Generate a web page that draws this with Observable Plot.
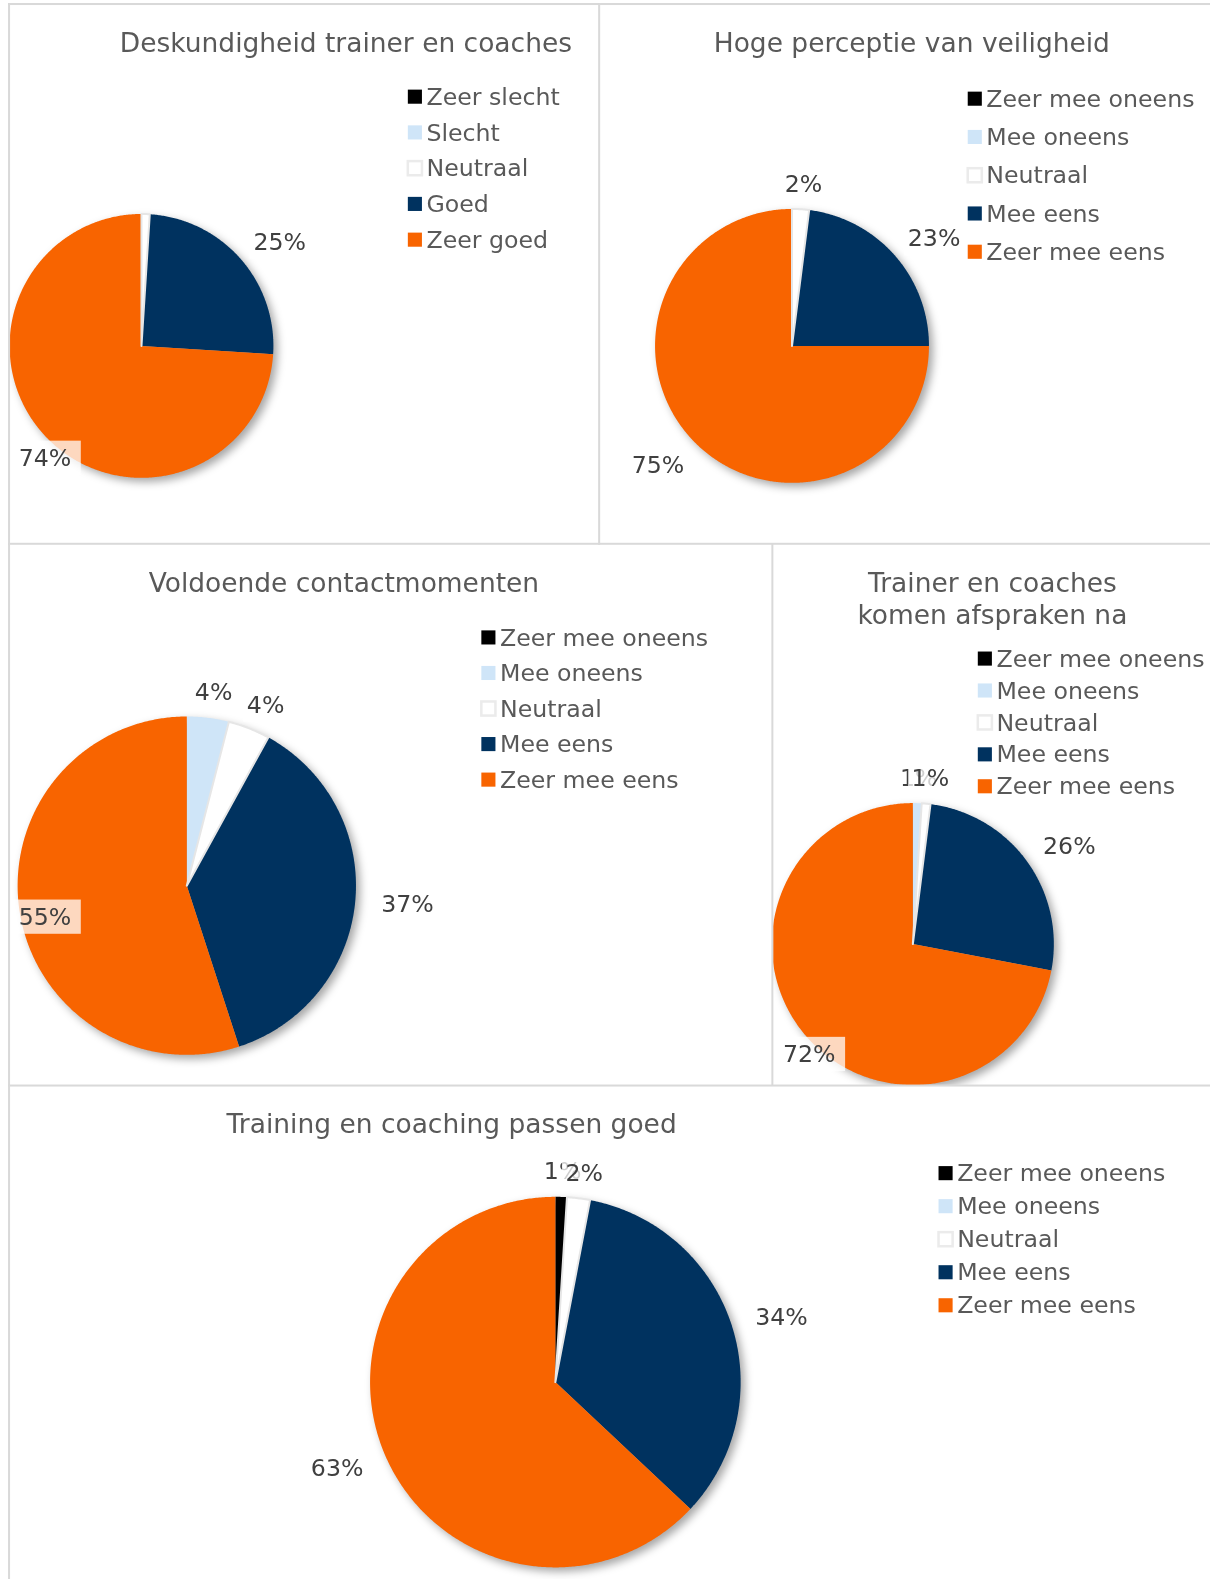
<!DOCTYPE html>
<html><head><meta charset="utf-8">
<script src="https://cdn.jsdelivr.net/npm/d3@7"></script>
<script src="https://cdn.jsdelivr.net/npm/@observablehq/plot@0.6"></script>
<style>
html,body{margin:0;padding:0;background:#fff;width:100%;height:100%;overflow:hidden;}
#page{position:absolute;left:0;top:0;width:1210px;height:1579px;overflow:hidden;font-family:"DejaVu Sans";transform-origin:0 0;transform:scale(1.007);}
.panel{position:absolute;overflow:hidden;}
.panel svg{display:block;}
.line{position:absolute;background:#d9d9d9;}
</style></head><body><div id="page"></div>
<script>
// ---------- data ----------
const catsQuality = ["Zeer slecht", "Slecht", "Neutraal", "Goed", "Zeer goed"];
const catsAgree = ["Zeer mee oneens", "Mee oneens", "Neutraal", "Mee eens", "Zeer mee eens"];

const title1 = "Deskundigheid trainer en coaches";
const title2 = "Hoge perceptie van veiligheid";
const title3 = "Voldoende contactmomenten";
const title4 = "Trainer en coaches\nkomen afspraken na";
const title5 = "Training en coaching passen goed";

const values1 = [0, 0, 1, 25, 74];
const values2 = [0, 0, 2, 23, 75];
const values3 = [0, 4, 4, 37, 55];
const values4 = [0, 1, 1, 26, 72];
const values5 = [1, 0, 2, 34, 63];

const sliceColors = ["#000000", "#CFE5F8", "#FFFFFF", "#00325F", "#F86400"];

// ---------- layout ----------
const panels = [
  {cats: catsQuality, values: values1, title: title1, hide: ["Neutraal"],
   left: 8, top: 3, w: 587, h: 537, cx: 140, cy: 343, r: 131,
   tx: 343, ty: 41, lx: 405, ly: 96, ldy: 35.5, clampLeft: 8},
  {cats: catsAgree, values: values2, title: title2, hide: [],
   left: 595, top: 3, w: 615, h: 537, cx: 786, cy: 343, r: 136,
   tx: 905, ty: 41, lx: 961, ly: 98, ldy: 38, clampLeft: 597},
  {cats: catsAgree, values: values3, title: title3, hide: [],
   left: 8, top: 540, w: 759, h: 538, cx: 185, cy: 879, r: 168,
   tx: 341, ty: 577, lx: 478, ly: 633, ldy: 35.3, clampLeft: 8},
  {cats: catsAgree, values: values4, title: title4, hide: [],
   left: 767, top: 540, w: 443, h: 538, cx: 906, cy: 937, r: 140,
   tx: 985, ty: 593, lx: 971, ly: 654, ldy: 31.7, clampLeft: 767},
  {cats: catsAgree, values: values5, title: title5, hide: [],
   left: 8, top: 1078, w: 1202, h: 501, cx: 551, cy: 1372, r: 184,
   tx: 448, ty: 1114, lx: 932, ly: 1165, ldy: 32.8, clampLeft: 8}
];

const FONT = "DejaVu Sans";
const canvas = document.createElement("canvas");
const ctx = canvas.getContext("2d");
ctx.font = `23.5px "${FONT}"`;
const textW = s => ctx.measureText(s).width;

const page = document.getElementById("page");

panels.forEach(p => {
  const rows = p.cats.map((c, i) => ({cat: c, i, value: p.values[i], color: sliceColors[i]}));
  const arcs = d3.pie().sort(null).value(d => d.value)(rows);

  // slice polygons
  const pts = [];
  arcs.forEach(a => {
    if (a.data.value <= 0) return;
    const n = Math.max(2, Math.ceil((a.endAngle - a.startAngle) / (Math.PI / 360)));
    pts.push({k: a.data.i, cat: a.data.cat, color: a.data.color, x: p.cx, y: p.cy});
    for (let j = 0; j <= n; j++) {
      const t = a.startAngle + (a.endAngle - a.startAngle) * j / n;
      pts.push({k: a.data.i, cat: a.data.cat, color: a.data.color,
                x: p.cx + p.r * Math.sin(t), y: p.cy - p.r * Math.cos(t)});
    }
  });

  // labels (outside end, clamped into chart area)
  const labels = [];
  arcs.forEach(a => {
    if (a.data.value <= 0 || p.hide.includes(a.data.cat)) return;
    const th = (a.startAngle + a.endAngle) / 2;
    const txt = a.data.value + "%";
    const w = textW(txt);
    const R = p.r + 20;
    const c = Math.cos(th), s = Math.sin(th);
    let x = p.cx + R * s + (w / 2 + 6) * s;
    const y = p.cy - R * c - (c < 0 ? 12 : 5) * c;
    let half = w / 2 + 3;
    const clampHalf = w / 2 + 10;
    if (x - clampHalf < p.clampLeft) { x = p.clampLeft + clampHalf; half = clampHalf; }
    labels.push({x, y, w, half, txt});
  });

  const labelMarks = [];
  labels.forEach(l => {
    labelMarks.push(Plot.rect([l], {x1: d => d.x - d.half, x2: d => d.x + d.half,
      y1: d => d.y - 17, y2: d => d.y + 17, fill: "white", fillOpacity: 0.75}));
    labelMarks.push(Plot.text([l], {x: "x", y: "y", text: "txt", fontSize: 23.5,
      fill: "#404040", fontFamily: FONT}));
  });

  const legendRows = rows.map(d => ({...d, ly: p.ly + d.i * p.ldy}));

  const plot = Plot.plot({
    width: p.w, height: p.h,
    marginTop: 0, marginRight: 0, marginBottom: 0, marginLeft: 0,
    x: {domain: [p.left, p.left + p.w], range: [0, p.w], axis: null},
    y: {domain: [p.top, p.top + p.h], range: [0, p.h], axis: null},
    color: {type: "identity"},
    style: {background: "transparent", fontFamily: FONT, overflow: "visible"},
    marks: [
      Plot.line(pts, {x: "x", y: "y", z: "k", fill: "color", stroke: "none", curve: "linear-closed"}),
      Plot.line(pts.filter(d => d.cat === "Neutraal"), {x: "x", y: "y", z: "k", fill: "none",
        stroke: "#E6E6E6", strokeWidth: 2, curve: "linear-closed"}),
      ...labelMarks,
      // legend
      Plot.rect(legendRows, {x1: p.lx, x2: p.lx + 14, y1: d => d.ly - 7, y2: d => d.ly + 7,
        fill: "color", stroke: d => d.cat === "Neutraal" ? "#EBEBEB" : "none",
        strokeWidth: 2.5, inset: 0}),
      Plot.text(legendRows, {x: p.lx + 18, y: "ly", text: "cat", textAnchor: "start",
        fontSize: 23.5, fill: "#595959", fontFamily: FONT}),
      // title
      Plot.text([p.title], {x: p.tx, y: p.ty, text: d => d, fontSize: 26.3, fill: "#595959",
        fontFamily: FONT, lineHeight: 1.23})
    ]
  });

  const g = plot.querySelector('g[aria-label="line"]');
  if (g) g.style.filter = "drop-shadow(4px 4px 4px rgba(0,0,0,0.35))";

  const div = document.createElement("div");
  div.className = "panel";
  div.style.left = p.left + "px"; div.style.top = p.top + "px";
  div.style.width = p.w + "px"; div.style.height = p.h + "px";
  div.appendChild(plot);
  page.appendChild(div);
});

// panel borders
[[8, 3, 2, 1576], [8, 3, 1202, 2], [594, 3, 2, 538], [8, 539, 1202, 2],
 [766, 540, 2, 538], [8, 1077, 1202, 2]].forEach(([x, y, w, h]) => {
  const d = document.createElement("div");
  d.className = "line";
  d.style.left = x + "px"; d.style.top = y + "px";
  d.style.width = w + "px"; d.style.height = h + "px";
  page.appendChild(d);
});
</script></body></html>
